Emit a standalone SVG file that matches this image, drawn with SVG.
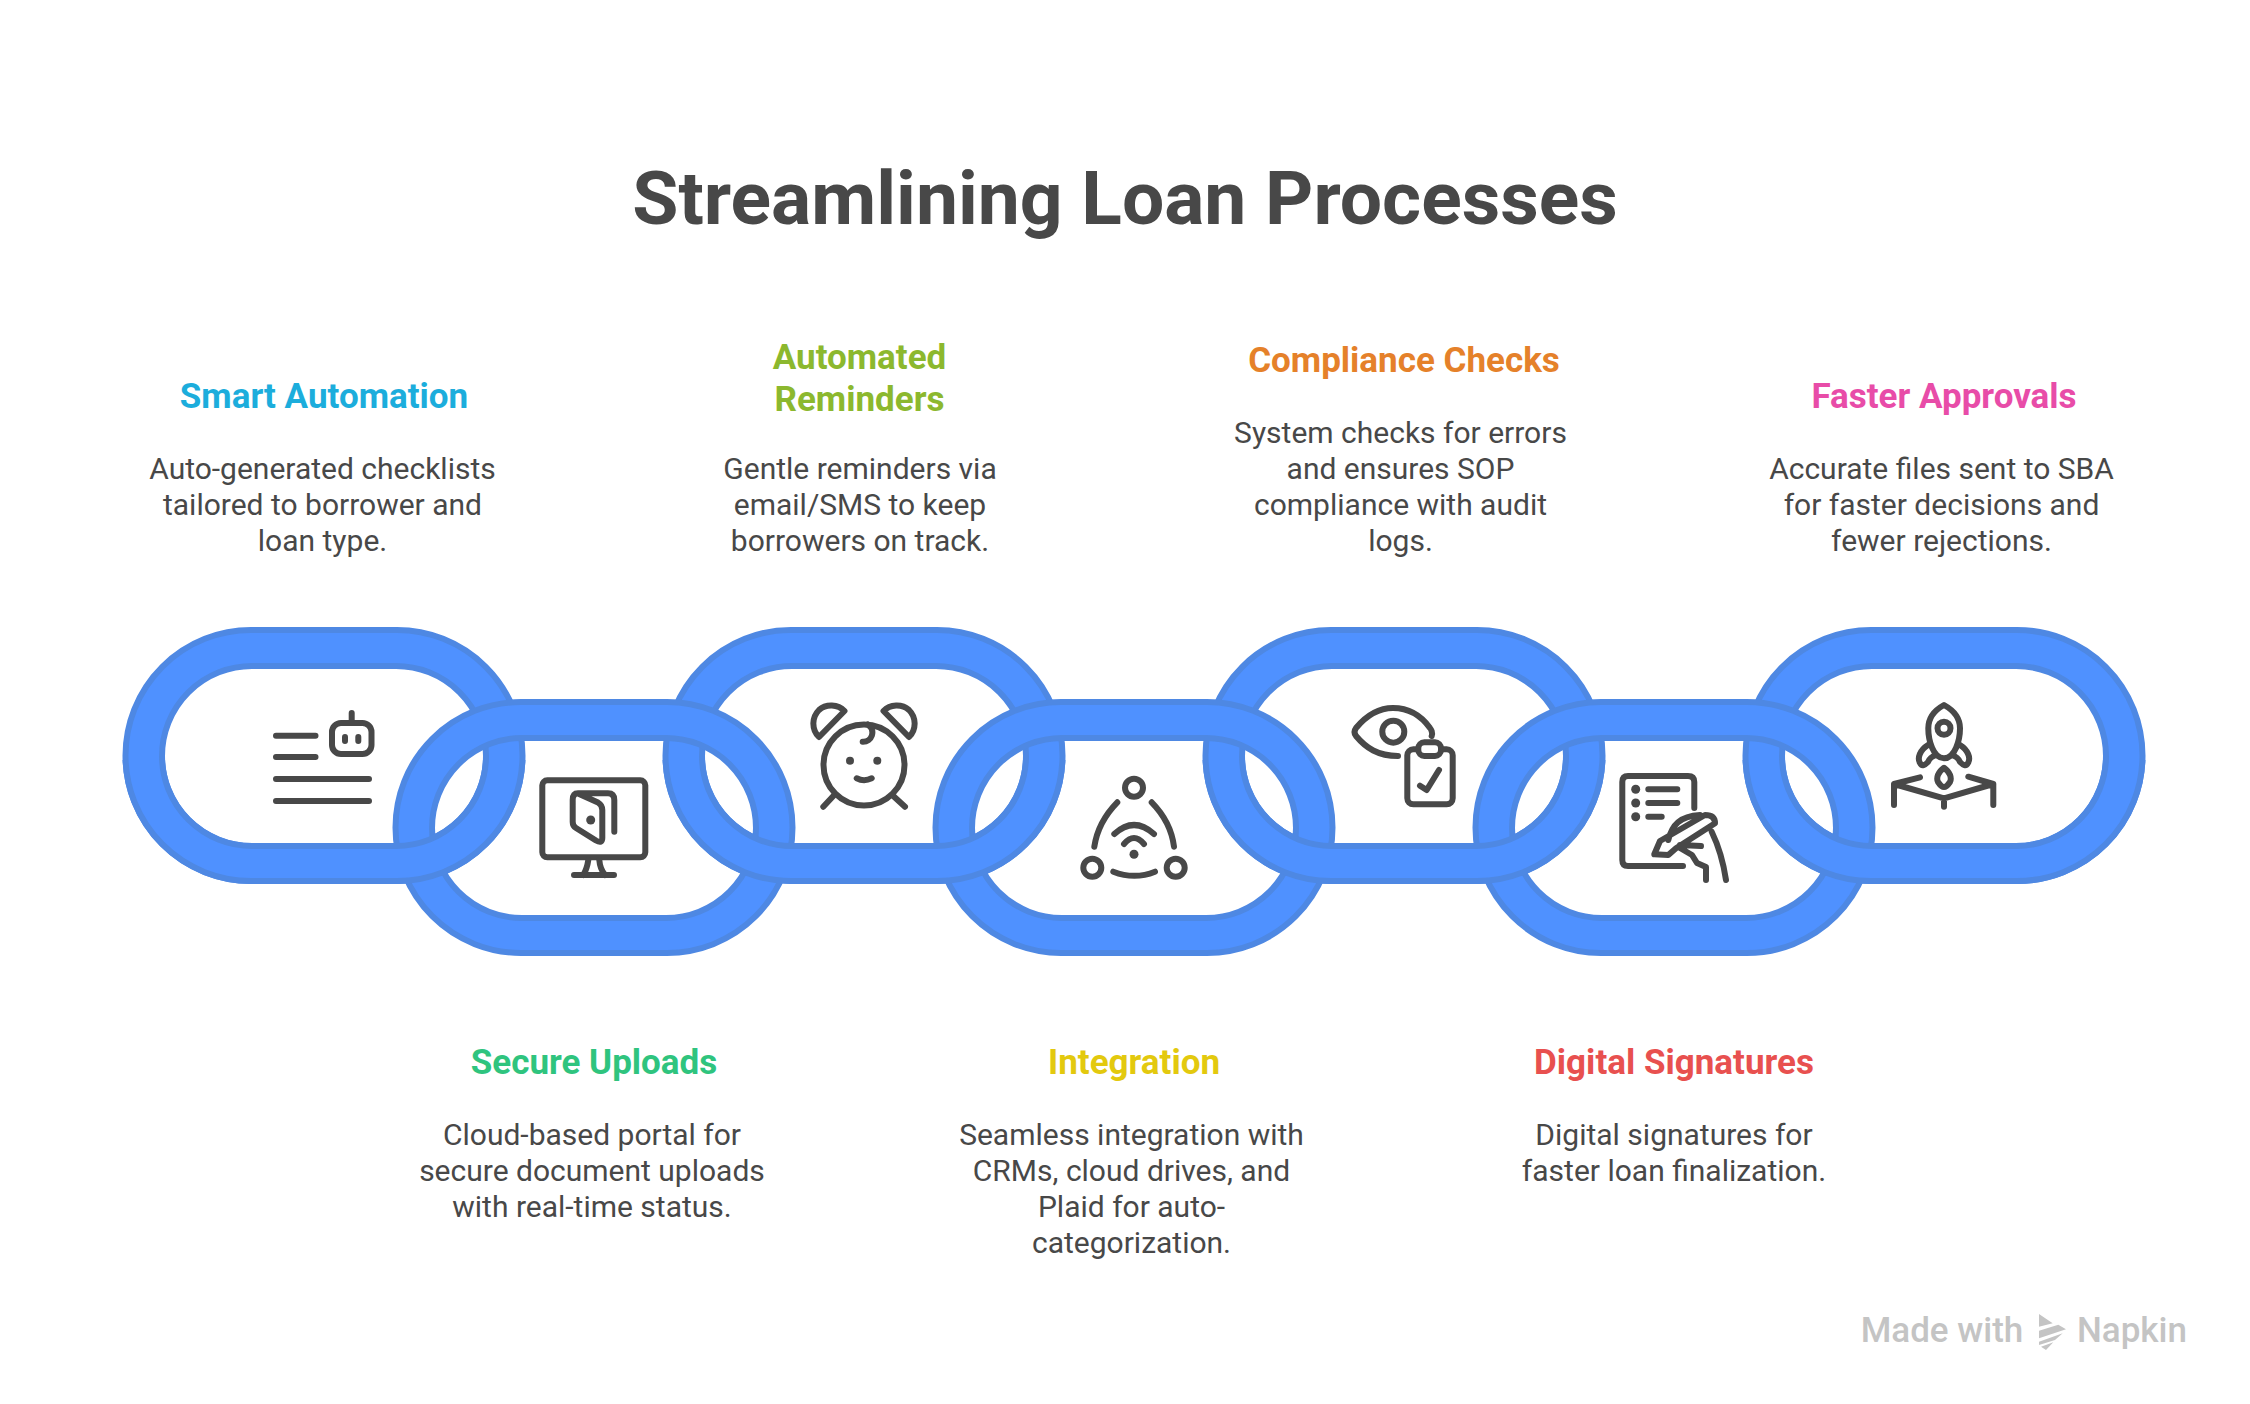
<svg xmlns="http://www.w3.org/2000/svg" width="2250" height="1404" viewBox="0 0 2250 1404">
<style>
text{font-family:Roboto,"Liberation Sans",sans-serif;text-anchor:middle}
.t{font-size:75px;font-weight:700;fill:#484848}
.h{font-size:35px;font-weight:700}
.b{font-size:30px;font-weight:400;fill:#484848}
.r{fill:#4F91FF;stroke:#4E88E3;stroke-width:6;fill-rule:evenodd}
.i{fill:none;stroke:#484848;stroke-width:6;stroke-linecap:round;stroke-linejoin:round}
.d{fill:#484848}
.w{font-size:35px;font-weight:500;fill:#C4C4C4}
</style>
<defs>
<path id="ring" class="r" d="M251,630H397A125,125 0 0 1 397,881H251A125,125 0 0 1 251,630ZM252,666A90,90 0 0 0 252,846H396A90,90 0 0 0 396,666Z"/>
<clipPath id="lower"><rect x="0" y="760" width="2250" height="200"/></clipPath>
</defs>
<rect width="2250" height="1404" fill="#fff"/>
<text class="t" x="1125" y="224">Streamlining Loan Processes</text>

<g id="node-smart-automation">
<use href="#ring"/>
<path class="i" d="M276,735.7H315.5M276,757H315.5M276,779H369M276,801H369M351.7,713V723"/>
<rect class="i" x="332" y="723" width="39.5" height="31" rx="9"/>
<path class="i" d="M345,737V741M358.3,737V741"/>
<text class="h" x="324" y="408" fill="#1CADDC">Smart Automation</text>
<text class="b"><tspan x="322.5" y="479">Auto-generated checklists</tspan><tspan x="322.5" y="515">tailored to borrower and</tspan><tspan x="322.5" y="551">loan type.</tspan></text>
</g>
<g id="node-automated-reminders">
<use href="#ring" x="540"/>
<circle class="i" cx="864" cy="765" r="40.5"/>
<path class="i" d="M844.5,711C838,704 826,703.5 819,710C812,717 811,729 819,737ZM883.5,711C890,704 902,703.5 909,710C916,717 917,729 909,737ZM833.3,796L823.3,806.7M893.3,796L905,806.7M862.7,741.7C872,742 876,731 868,724.5M856.7,778.3Q864,782 871.7,778.3"/>
<circle class="d" cx="850" cy="760.7" r="4"/><circle class="d" cx="877.3" cy="760.7" r="4"/>
<text class="h" x="859.5" y="369" fill="#8CB82E">Automated</text>
<text class="h" x="859.5" y="411" fill="#8CB82E">Reminders</text>
<text class="b"><tspan x="860" y="479">Gentle reminders via</tspan><tspan x="860" y="515">email/SMS to keep</tspan><tspan x="860" y="551">borrowers on track.</tspan></text>
</g>
<g id="node-compliance-checks">
<use href="#ring" x="1080"/>
<path class="i" d="M1431.7,736C1433,733 1431,729 1430,728C1420,714 1408,708 1393,708C1378,708 1366,716 1356,728Q1353,732 1356,736C1366,748 1378,756 1398,756"/>
<circle class="i" cx="1393.3" cy="731.7" r="11"/>
<rect class="i" x="1407.3" y="749.3" width="45.4" height="55" rx="6"/>
<rect class="i" x="1418.3" y="742.3" width="22.7" height="13.7" rx="6" style="fill:#fff"/>
<path class="i" d="M1420,785.7L1426.7,790L1439,770"/>
<text class="h" x="1404" y="372" fill="#E5812A">Compliance Checks</text>
<text class="b"><tspan x="1400.5" y="443">System checks for errors</tspan><tspan x="1400.5" y="479">and ensures SOP</tspan><tspan x="1400.5" y="515">compliance with audit</tspan><tspan x="1400.5" y="551">logs.</tspan></text>
</g>
<g id="node-faster-approvals">
<use href="#ring" x="1620"/>
<path class="i" d="M1944,705C1935,710 1928.3,718 1928.3,728.3C1928.3,740 1933,758.3 1944,758.3C1955,758.3 1960,740 1960,728.3C1960,718 1953,710 1944,705Z"/>
<circle class="i" cx="1944" cy="728.3" r="6.5"/>
<path class="i" d="M1928,745C1920,750 1917,758 1920,763C1922,767 1925,765 1928,762Q1930,757 1936,755M1960,745C1968,750 1971,758 1968,763C1966,767 1963,765 1960,762Q1958,757 1952,755M1944,767.7C1938,772 1936,778 1938,782C1940,785 1942,787 1944,787C1946,787 1948,785 1950,782C1952,778 1950,772 1944,767.7ZM1920,777.3L1894,784V805M1894,784L1944,798.3L1993.3,784L1968.3,776.7M1993.3,784V805M1944,798.3V806.7"/>
<text class="h" x="1944" y="408" fill="#E84CA8">Faster Approvals</text>
<text class="b"><tspan x="1941.5" y="479">Accurate files sent to SBA</tspan><tspan x="1941.5" y="515">for faster decisions and</tspan><tspan x="1941.5" y="551">fewer rejections.</tspan></text>
</g>
<g id="node-secure-uploads">
<use href="#ring" x="270" y="72"/>
<rect class="i" x="542.3" y="780.3" width="103" height="77" rx="5"/>
<path class="i" d="M588.3,860Q587,869 583.3,875M599.3,860Q600,869 605,875M574,875H614"/>
<path class="i" d="M614.3,831.7V800Q614.3,793.3 608,793.3H578Q572.7,793.3 572.7,800V822Q572.7,826 576,828L596,840.5Q602.3,844 602.3,838V810Q602.3,805 598,802.5L578,793.5"/>
<circle class="d" cx="590.7" cy="820" r="4.5"/>
<text class="h" x="594" y="1074" fill="#2FC47E">Secure Uploads</text>
<text class="b"><tspan x="592" y="1145">Cloud-based portal for</tspan><tspan x="592" y="1181">secure document uploads</tspan><tspan x="592" y="1217">with real-time status.</tspan></text>
</g>
<g id="node-integration">
<use href="#ring" x="810" y="72"/>
<circle class="i" cx="1134" cy="787.7" r="9"/><circle class="i" cx="1092.3" cy="867.7" r="9"/><circle class="i" cx="1175.7" cy="867.7" r="9"/>
<path class="i" d="M1117.3,802.3Q1098,822 1094.3,846.7M1151.7,802.3Q1171,822 1174,846.7M1113.3,871.7Q1134.5,880 1155,871.7M1114.3,834Q1134,816 1154,834M1124,844Q1134,832 1144,844"/>
<circle class="d" cx="1134" cy="854.3" r="4.5"/>
<text class="h" x="1134" y="1074" fill="#E3C90E">Integration</text>
<text class="b"><tspan x="1131.5" y="1145">Seamless integration with</tspan><tspan x="1131.5" y="1181">CRMs, cloud drives, and</tspan><tspan x="1131.5" y="1217">Plaid for auto-</tspan><tspan x="1131.5" y="1253">categorization.</tspan></text>
</g>
<g id="node-digital-signatures">
<use href="#ring" x="1350" y="72"/>
<path class="i" d="M1694.3,808V782Q1694.3,776 1688,776H1628Q1622.3,776 1622.3,782V860Q1622.3,866 1628,866H1683M1648.3,789.3H1677.3M1648.3,803H1677.3M1648.3,816.7H1661.7"/>
<circle class="d" cx="1635.7" cy="789.3" r="4.5"/><circle class="d" cx="1635.7" cy="803" r="4.5"/><circle class="d" cx="1635.7" cy="816.7" r="4.5"/>
<path class="i" d="M1654.3,854.3L1660,841L1705,815Q1715,815 1715,823.3L1676,848.3L1668.3,855ZM1668.3,840C1672,825 1680,816 1700,815M1680,845L1701,846M1680,848L1692,855L1697,863L1706,867V880M1711.7,831.7Q1722,853 1726,880"/>
<text class="h" x="1674" y="1074" fill="#E8504F">Digital Signatures</text>
<text class="b"><tspan x="1674" y="1145">Digital signatures for</tspan><tspan x="1674" y="1181">faster loan finalization.</tspan></text>
</g>
<g id="chain-overlaps" clip-path="url(#lower)">
<use href="#ring"/><use href="#ring" x="540"/><use href="#ring" x="1080"/><use href="#ring" x="1620"/>
</g>
<g id="watermark">
<text class="w" x="1942" y="1342">Made with</text>
<text class="w" x="2132" y="1342">Napkin</text>
<path fill="#C4C4C4" d="M2039,1314L2052.7,1323.3L2039,1326.7ZM2039,1330.7L2058.3,1324.7L2066,1329.3L2039,1338.3ZM2039,1341.7L2062.7,1333.3L2055,1340L2039,1345ZM2053.3,1342.3L2046,1350L2041,1346.7Z"/>
</g>
</svg>
